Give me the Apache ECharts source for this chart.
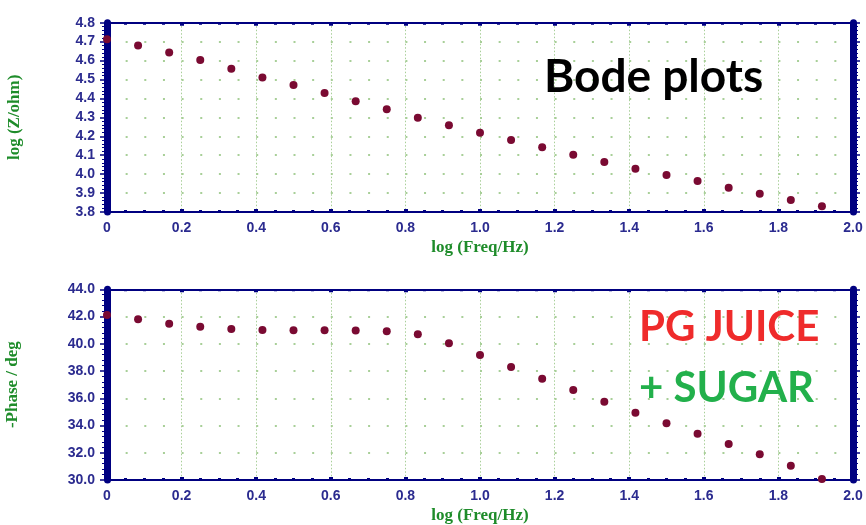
<!DOCTYPE html>
<html>
<head>
<meta charset="utf-8">
<script src="https://cdn.jsdelivr.net/npm/echarts@6/dist/echarts.min.js"></script>
<style>
html,body{margin:0;padding:0;background:#fff;}
#chart{width:866px;height:525px;}
</style>
</head>
<body>
<div id="chart"></div>
<script>
// log(Freq/Hz) values (shared by both plots)
var logFreq = [0, 0.0833, 0.1667, 0.25, 0.3333, 0.4167, 0.5, 0.5833, 0.6667, 0.75, 0.8333, 0.9167,
  1.0, 1.0833, 1.1667, 1.25, 1.3333, 1.4167, 1.5, 1.5833, 1.6667, 1.75, 1.8333, 1.9167];
// log(Z/ohm)
var logZ = [4.712, 4.679, 4.642, 4.603, 4.557, 4.511, 4.471, 4.429, 4.385, 4.343, 4.298, 4.258,
  4.219, 4.180, 4.142, 4.103, 4.064, 4.029, 3.995, 3.964, 3.928, 3.897, 3.863, 3.830];
// -Phase / deg
var phase = [42.11, 41.80, 41.47, 41.25, 41.09, 41.01, 40.99, 40.99, 40.97, 40.92, 40.70, 40.04,
  39.18, 38.30, 37.44, 36.61, 35.75, 34.94, 34.16, 33.40, 32.64, 31.89, 31.05, 30.07];

var NAVY = '#000080';
var LABEL = '#2b2b8f';
var TITLEGREEN = '#1e8c2a';
var GRIDGREEN = '#a8cf98';
var MARK = '#7a0a32';

function pairs(xs, ys) { return xs.map(function (x, i) { return [x, ys[i]]; }); }

var labelFont = { color: LABEL, fontWeight: 'bold', fontSize: 14, fontFamily: 'Liberation Sans, Arial, sans-serif' };
var titleFont = { color: TITLEGREEN, fontWeight: 'bold', fontSize: 17, fontFamily: 'Liberation Serif, Times New Roman, serif' };

function xBottom(gridIndex) {
  return {
    type: 'value', gridIndex: gridIndex, position: 'bottom', min: 0, max: 2, interval: 0.2,
    name: 'log (Freq/Hz)', nameLocation: 'middle', nameGap: 27,
    nameTextStyle: titleFont,
    axisLine: { show: true, onZero: false, lineStyle: { color: NAVY, width: 2 } },
    axisTick: { show: true, inside: true, length: 3, lineStyle: { color: NAVY, width: 4 } },
    minorTick: { show: true, splitNumber: 4, length: 2, lineStyle: { color: NAVY, width: 3 } },
    axisLabel: Object.assign({ margin: 9, formatter: function (v) { return v === 0 ? '0' : v.toFixed(1); } }, labelFont),
    splitLine: { show: true, lineStyle: { color: GRIDGREEN, width: 1, type: [1.5, 2] } },
    minorSplitLine: { show: false }
  };
}
function xTop(gridIndex) {
  return {
    type: 'value', gridIndex: gridIndex, position: 'top', min: 0, max: 2, interval: 0.2,
    axisLine: { show: true, onZero: false, lineStyle: { color: NAVY, width: 2 } },
    axisTick: { show: true, inside: true, length: 3, lineStyle: { color: NAVY, width: 4 } },
    minorTick: { show: true, splitNumber: 4, length: 2, lineStyle: { color: NAVY, width: 3 } },
    axisLabel: { show: false }, splitLine: { show: false }
  };
}
function yLeft(gridIndex, min, max, interval, name, gap, minorSplit) {
  return {
    type: 'value', gridIndex: gridIndex, position: 'left', min: min, max: max, interval: interval,
    name: name, nameLocation: 'middle', nameGap: gap, nameRotate: 90,
    nameTextStyle: titleFont,
    axisLine: { show: true, onZero: false, lineStyle: { color: NAVY, width: 7 } },
    axisTick: { show: true, inside: false, length: 7, lineStyle: { color: NAVY, width: 1.5 } },
    minorTick: { show: true, splitNumber: minorSplit, length: 5, lineStyle: { color: NAVY, width: 1 } },
    axisLabel: Object.assign({ margin: 12, formatter: function (v) { return v.toFixed(1); } }, labelFont),
    splitLine: { show: true, lineStyle: { color: GRIDGREEN, width: 2, type: [2, 16.65] } }
  };
}
function yRight(gridIndex, min, max, interval, minorSplit) {
  return {
    type: 'value', gridIndex: gridIndex, position: 'right', min: min, max: max, interval: interval,
    axisLine: { show: true, onZero: false, lineStyle: { color: NAVY, width: 7 } },
    axisTick: { show: true, inside: false, length: 7, lineStyle: { color: NAVY, width: 1.5 } },
    minorTick: { show: true, splitNumber: minorSplit, length: 5, lineStyle: { color: NAVY, width: 1 } },
    axisLabel: { show: false }, splitLine: { show: false }
  };
}

var chart = echarts.init(document.getElementById('chart'), null, { renderer: 'canvas' });
chart.setOption({
  backgroundColor: '#ffffff',
  animation: false,
  grid: [
    { left: 107, right: 13, top: 22.7, height: 189.3, containLabel: false, outerBoundsMode: 'none' },
    { left: 107, right: 13, top: 289.3, height: 190.7, containLabel: false, outerBoundsMode: 'none' }
  ],
  xAxis: [xBottom(0), xTop(0), xBottom(1), xTop(1)],
  yAxis: [
    yLeft(0, 3.8, 4.8, 0.1, 'log (Z/ohm)', 84, 5),
    yRight(0, 3.8, 4.8, 0.1, 5),
    yLeft(1, 30, 44, 2, '-Phase / deg', 86, 5),
    yRight(1, 30, 44, 2, 5)
  ],
  series: [
    { type: 'scatter', xAxisIndex: 0, yAxisIndex: 0, symbol: 'circle', symbolSize: 8,
      itemStyle: { color: MARK, opacity: 1 }, data: pairs(logFreq, logZ), z: 5 },
    { type: 'scatter', xAxisIndex: 2, yAxisIndex: 2, symbol: 'circle', symbolSize: 8,
      itemStyle: { color: MARK, opacity: 1 }, data: pairs(logFreq, phase), z: 5 }
  ],
  graphic: [
    { type: 'text', left: 544, top: 54, z: 10,
      style: { text: 'Bode plots', fill: '#000000', font: 'bold 46px Lato, "Open Sans", sans-serif' } },
    { type: 'text', left: 639, top: 306, z: 10,
      style: { text: 'PG JUICE', fill: '#ef2b2b', font: 'bold 42px Lato, "Open Sans", sans-serif' } },
    { type: 'text', left: 639, top: 367, z: 10,
      style: { text: '+ SUGAR', fill: '#22b04b', font: 'bold 42px Lato, "Open Sans", sans-serif' } }
  ]
});
</script>
</body>
</html>
